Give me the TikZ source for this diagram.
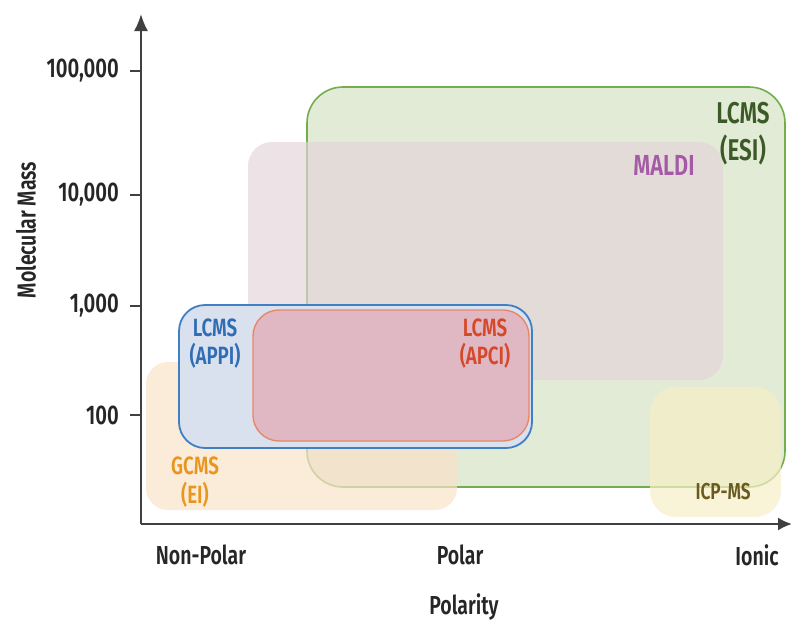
\documentclass[tikz,border=0pt]{standalone}
\usepackage{fontspec}
\usetikzlibrary{arrows.meta}
\setmainfont{Fira Sans}[BoldFont={Fira Sans SemiBold}, FakeStretch=0.75]
\begin{document}
\begin{tikzpicture}[x=1pt,y=-1pt]
\definecolor{cGC}{HTML}{F9E2C9}
\definecolor{cMA}{HTML}{E4D4DA}
\definecolor{cES}{HTML}{E2EBD5}
\definecolor{cESb}{HTML}{72AE4C}
\definecolor{cAP}{HTML}{D9E0EE}
\definecolor{cAPb}{HTML}{3F7FC2}
\definecolor{cAC}{HTML}{E0B8C4}
\definecolor{cACb}{HTML}{E8866A}
\definecolor{cIC}{HTML}{F6EFC7}
\definecolor{tES}{HTML}{3B5A28}
\definecolor{tMA}{HTML}{A45AA5}
\definecolor{tAP}{HTML}{2F6DB5}
\definecolor{tAC}{HTML}{D5482A}
\definecolor{tGC}{HTML}{E8961E}
\definecolor{tIC}{HTML}{6B5A1E}
\tikzset{
  region/.style={rounded corners=#1},
  reglab/.style={align=center, inner sep=0pt},
  axlab/.style={font=\fontsize{26}{28}\selectfont\bfseries, text=black!85, inner sep=0pt},
  ticklab/.style={font=\fontsize{27}{28}\selectfont\bfseries, text=black!85, anchor=east, inner sep=0pt},
  axis/.style={line width=2pt, draw=black!75},
}
\useasboundingbox (0,0) rectangle (791,624);
% regions
\fill[region=36, fill=cES] (307,87) rectangle (785,487);
\draw[region=36, draw=cESb, line width=1.6pt] (307,87) rectangle (785,487);
\fill[region=24, fill=cMA, fill opacity=0.67] (248,142) rectangle (723,380);
\fill[region=22, fill=cGC, fill opacity=0.7] (146,362) rectangle (457,510);
\fill[region=26, fill=cIC, fill opacity=0.7] (650,387) rectangle (781,517);
\filldraw[region=26, fill=cAP, draw=cAPb, line width=1.8pt] (179,305) rectangle (532,448);
\filldraw[region=26, fill=cAC, draw=cACb, line width=1.4pt] (253,310) rectangle (529,441);
% axes
\coordinate (o) at (141,524);
\coordinate (ytop) at (141,14);
\coordinate (xend) at (792,524);
\draw[axis, -{Latex[length=17pt,width=14pt]}] (o) -- (ytop);
\draw[axis, -{Latex[length=14pt,width=13pt]}] (o) -- (xend);
% ticks
\foreach \yy/\lab/\nm in {71/{100,000}/ta,195/{10,000}/tb,306/{1,000}/tc,415/{100}/td}{
  \coordinate (\nm a) at (130,\yy);
  \coordinate (\nm b) at (141,\yy);
  \draw[axis, line width=1.6pt] (\nm a) -- (\nm b);
  \node[ticklab] (\nm) at (119,\yy) {\lab};
}
\node[axlab, rotate=90] (ylab) at (26,230) {Molecular Mass};
\node[axlab] (np) at (201,555) {Non-Polar};
\node[axlab] (po) at (460,555) {Polar};
\node[axlab] (io) at (757,555) {Ionic};
\node[axlab] (pol) at (464,607) {Polarity};
% labels
\node[reglab, text=tES, font=\fontsize{30}{37}\selectfont\bfseries] (les) at (743,134) {LCMS\\(ESI)};
\node[reglab, text=tMA, font=\fontsize{29}{30}\selectfont\bfseries] (lma) at (664,165) {MALDI};
\node[reglab, text=tAP, font=\fontsize{25}{28}\selectfont\bfseries] (lap) at (215,344) {LCMS\\(APPI)};
\node[reglab, text=tAC, font=\fontsize{25}{28}\selectfont\bfseries] (lac) at (485,344) {LCMS\\(APCI)};
\node[reglab, text=tGC, font=\fontsize{25}{29}\selectfont\bfseries] (lgc) at (195,482) {GCMS\\(EI)};
\node[reglab, text=tIC, font=\fontsize{23}{25}\selectfont\bfseries] (lic) at (723,492) {ICP-MS};
\end{tikzpicture}
\end{document}
